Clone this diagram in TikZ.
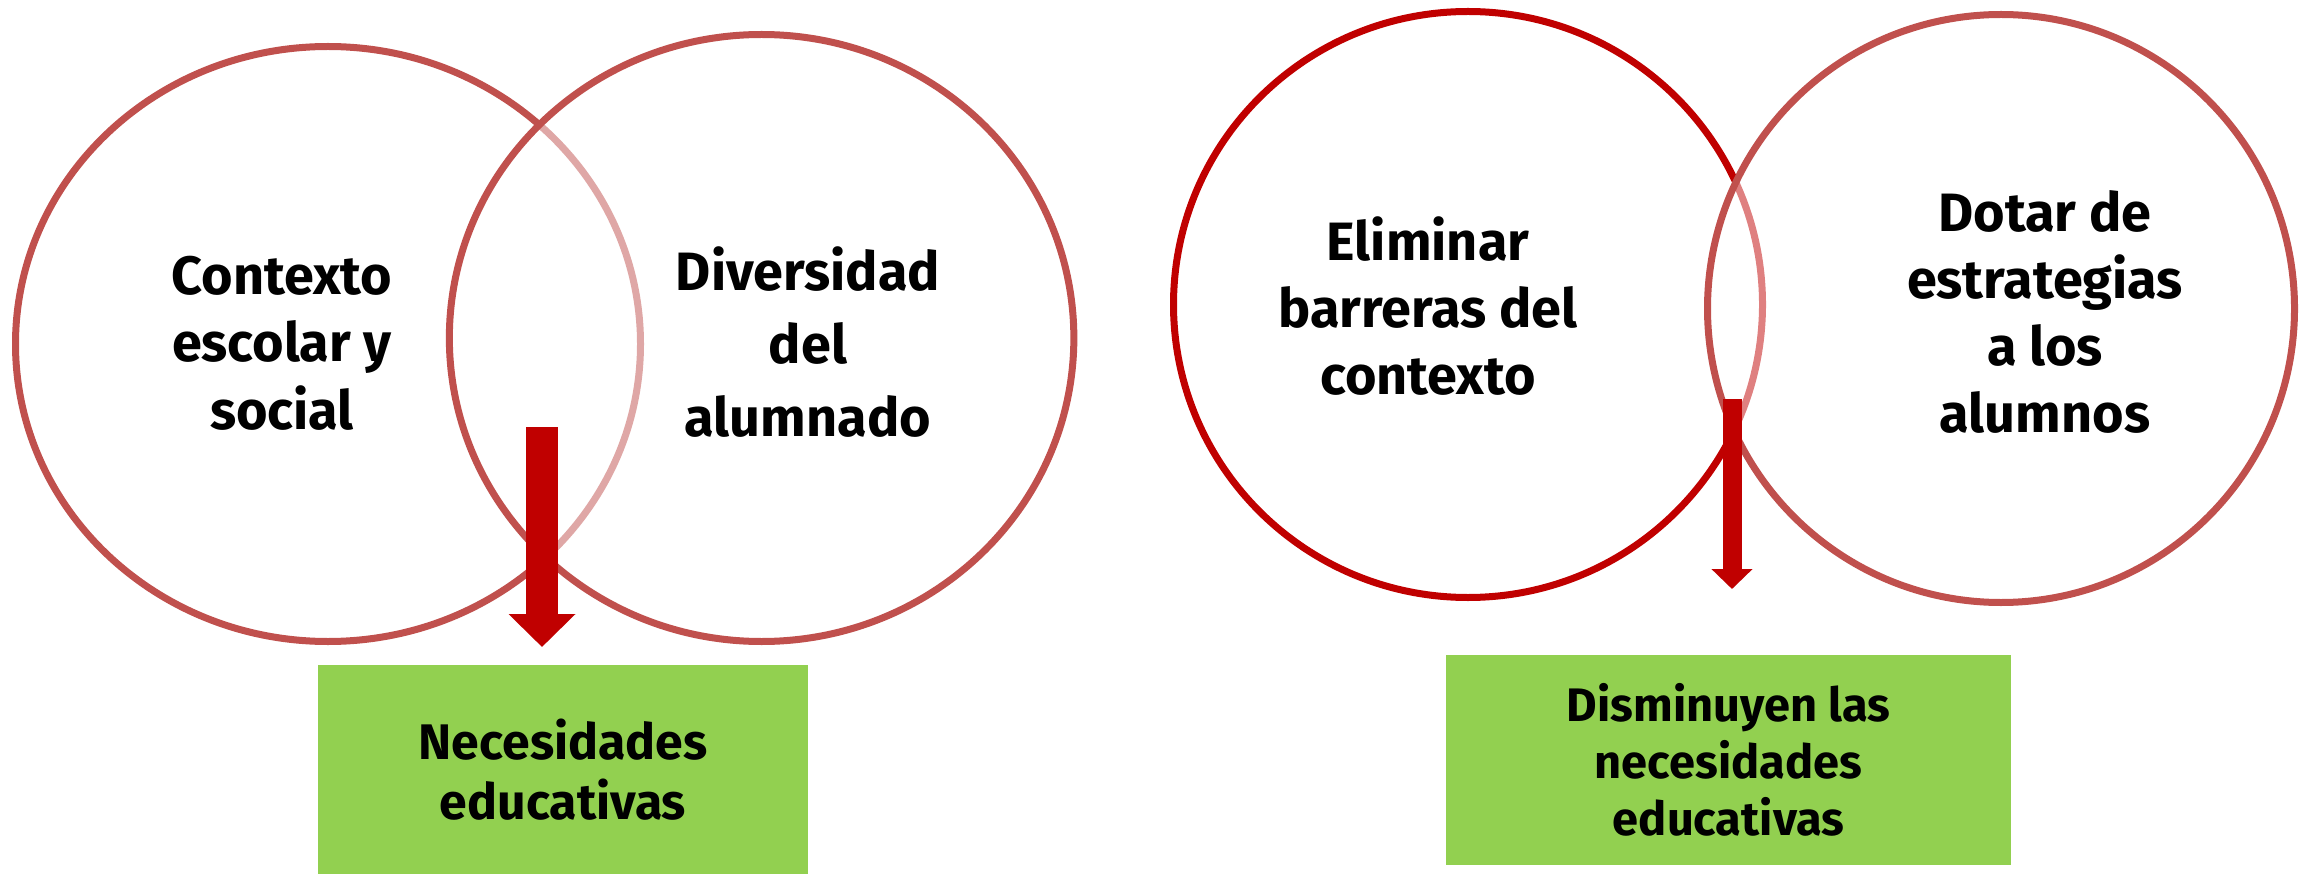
\documentclass[tikz,border=0pt]{standalone}
\usepackage{fontspec}
\setmainfont{Fira Sans}
\usetikzlibrary{shapes.geometric,arrows.meta}
\definecolor{ringA}{HTML}{C0504D}
\definecolor{ringB}{HTML}{C00000}
\definecolor{boxgreen}{HTML}{92D050}
\begin{document}
\begin{tikzpicture}[x=1pt,y=-1pt,
  ring/.style={ellipse, draw, line width=7pt, inner sep=0pt},
  veil/.style={fill=white, fill opacity=0.5},
  bigarrow/.style={draw=ringB, line width=#1},
  label/.style={align=center, font=\bfseries\fontsize{54}{67.6}\selectfont, inner sep=0pt},
  greenbox/.style={fill=boxgreen, draw=none, align=center, inner sep=0pt}
]
\useasboundingbox (0,0) rectangle (2306,874);
% left pair
\node[ring, draw=ringA, minimum width=625pt, minimum height=595pt] (c1) at (328,344) {};
\node[ring, draw=ringA, veil, minimum width=624.5pt, minimum height=607pt] (c2) at (761.6,338) {};
% right pair
\node[ring, draw=ringB, minimum width=589pt, minimum height=586pt] (c3) at (1468,304.5) {};
\node[ring, draw=ringA, veil, minimum width=587pt, minimum height=588pt] (c4) at (2001,308.5) {};
% boxes
\node[greenbox, minimum width=490pt, minimum height=209pt,
      font=\bfseries\fontsize{50}{60}\selectfont] (b1) at (563,769.5) {Necesidades\\educativas};
\node[greenbox, minimum width=565pt, minimum height=210pt,
      font=\bfseries\fontsize{47}{57}\selectfont] (b2) at (1728.5,760) {Disminuyen las\\necesidades\\educativas};
% arrows
\coordinate (a1s) at (542,427);
\coordinate (a1e) at (542,647);
\draw[bigarrow=32pt, -{Triangle[width=65pt,length=33pt]}] (a1s) -- (a1e);
\coordinate (a2s) at (1732,399);
\coordinate (a2e) at (1732,589);
\draw[bigarrow=19pt, -{Triangle[width=40pt,length=20pt]}] (a2s) -- (a2e);
% texts
\node[label] (t1) at (282,343) {Contexto\\escolar y\\social};
\node[label, font=\bfseries\fontsize{54}{73}\selectfont] (t2) at (808,342) {Diversidad\\del\\alumnado};
\node[label, font=\bfseries\fontsize{54}{67}\selectfont] (t3) at (1428,306) {Eliminar\\barreras del\\contexto};
\node[label, font=\bfseries\fontsize{54}{67}\selectfont] (t4) at (2045,312) {Dotar de\\estrategias\\a los\\alumnos};
\end{tikzpicture}
\end{document}
